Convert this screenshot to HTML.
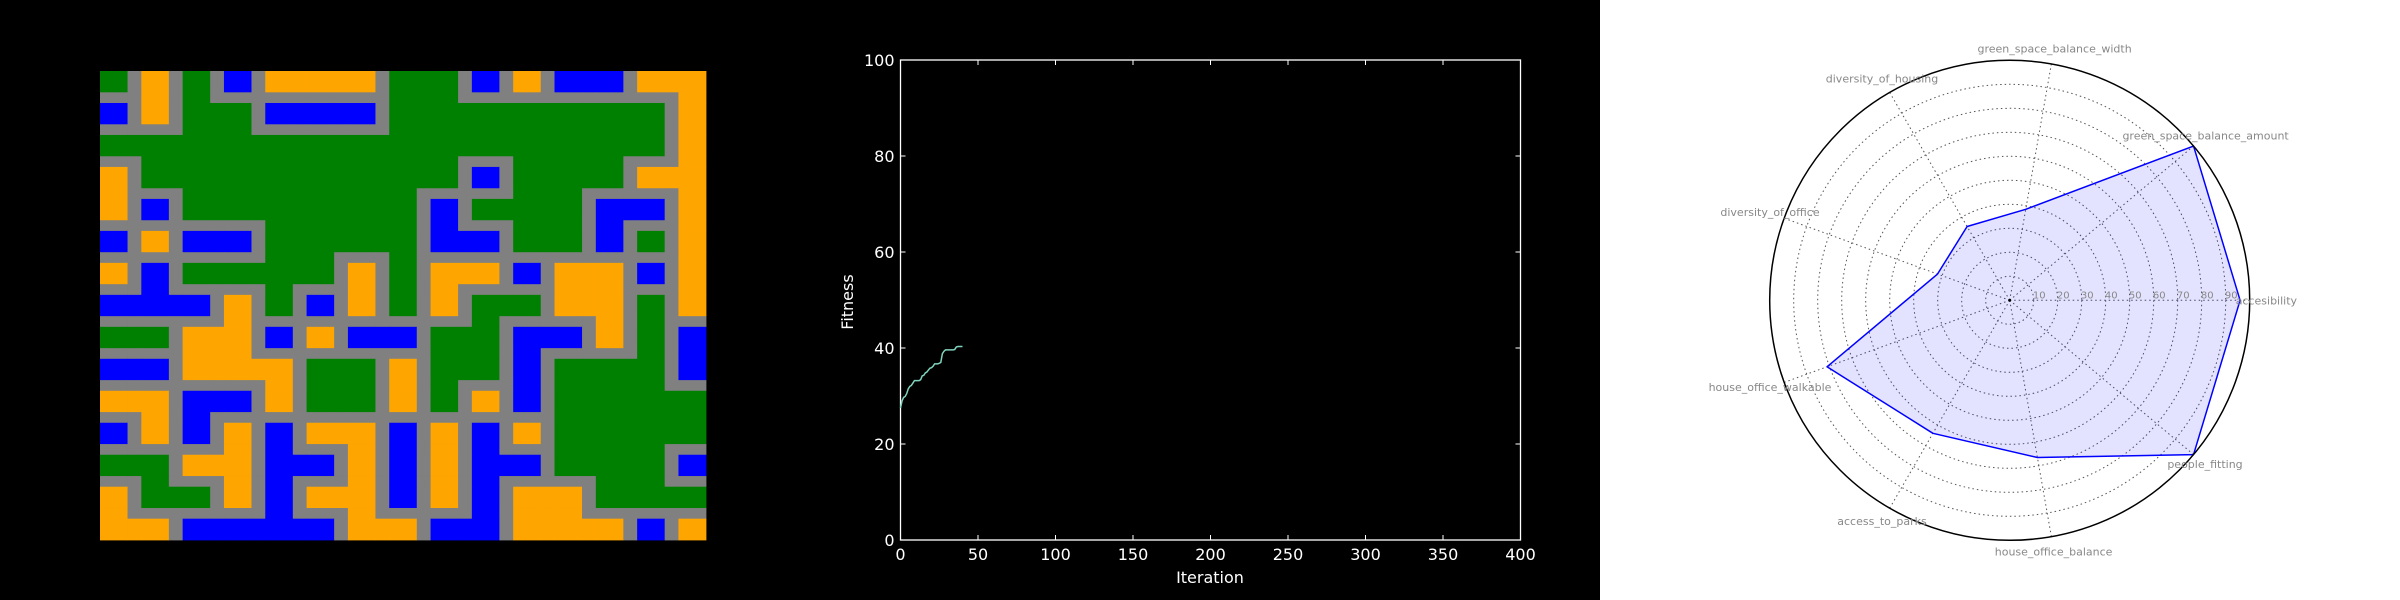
<!DOCTYPE html>
<html><head><meta charset="utf-8">
<style>
html,body{margin:0;padding:0;background:#000;}
body{width:2400px;height:600px;overflow:hidden;position:relative;font-family:"DejaVu Sans","Liberation Sans",sans-serif;}
svg{position:absolute;left:0;top:0;}
</style></head>
<body>
<svg id="root" width="2400" height="600" viewBox="0 0 2400 600" xmlns="http://www.w3.org/2000/svg">
  <rect x="0" y="0" width="1600" height="600" fill="#000"/>
  <rect x="1600" y="0" width="800" height="600" fill="#fff"/>
  <g id="mapG"></g>
  <g id="lineG"></g>
  <g id="radarG"></g>
</svg>
<script>
// ---------- Panel 1: city map (blocks even index, roads odd index) ----------
const mapRows = [
"G.O.G.B.OOOOO.GGG.B.O.BBB.OOO",
"..O.G.........GGG...........O",
"B.O.GGG.BBBBB.GGGGGGGGGGGGG.O",
"....GGG.......GGGGGGGGGGGGG.O",
"GGGGGGGGGGGGGGGGGGGGGGGGGGG.O",
"..GGGGGGGGGGGGGGG...GGGGG...O",
"O.GGGGGGGGGGGGGGG.B.GGGGG.OOO",
"O...GGGGGGGGGGG.....GGG.....O",
"O.B.GGGGGGGGGGG.B.GGGGG.BBB.O",
"........GGGGGGG.B...GGG.B...O",
"B.O.BBB.GGGGGGG.BBB.GGG.B.G.O",
"........GGG...G.............O",
"O.B.GGGGGGG.O.G.OOO.B.OOO.B.O",
"..B.....G...O.G.O.....OOO...O",
"BBBBB.O.G.B.O.G.O.GGG.OOO.G.O",
"......O...........G.....O.G..",
"GGG.OOO.B.O.BBB.GGG.BBB.O.G.B",
"....OOO.........GGG.B.....G.B",
"BBB.OOOOO.GGG.O.GGG.B.GGGGG.B",
"........O.GGG.O.G...B.GGGGG..",
"OOO.BBB.O.GGG.O.G.O.B.GGGGGGG",
"..O.B.................GGGGGGG",
"B.O.B.O.B.OOO.B.O.B.O.GGGGGGG",
"......O.B...O.B.O.B...GGGGG..",
"GGG.OOO.BBB.O.B.O.BBB.GGGGG.B",
"..G...O.B...O.B.O.B.....GGG..",
"O.GGG.O.B.OOO.B.O.B.OOO.GGGGG",
"O.......B...O.....B.OOO......",
"OOO.BBBBBBB.OOO.BBB.OOOOO.B.O"
];
const mapColors = {"G":"#008000","O":"#FFA500","B":"#0000FF",".":"#808080"};
const mapNames = {"G":"green-space","O":"housing","B":"office",".":"road"};
(function(){
  const g = document.getElementById('mapG');
  const x0=100, y0=71, ux=606/44, uy=469/44;
  const ns="http://www.w3.org/2000/svg";
  function pos(i){ return Math.floor(i/2)*3 + (i%2?2:0); }
  function size(i){ return i%2?1:2; }
  mapRows.forEach((row,r)=>{
    for(let c=0;c<row.length;c++){
      const ch=row[c];
      const rect=document.createElementNS(ns,'rect');
      rect.setAttribute('x',(x0+pos(c)*ux).toFixed(2));
      rect.setAttribute('y',(y0+pos(r)*uy).toFixed(2));
      rect.setAttribute('width',(size(c)*ux+0.4).toFixed(2));
      rect.setAttribute('height',(size(r)*uy+0.4).toFixed(2));
      rect.setAttribute('fill',mapColors[ch]);
      
      
      g.appendChild(rect);
    }
  });
})();

// ---------- Panel 2: fitness line chart ----------
const iterations = [0,1,2,3,4,5,6,7,8,9,10,11,12,13,14,15,16,17,18,19,20,21,22,23,24,25,26,27,28,29,30,31,32,33,34,35,36,37,38,39,40];
const fitness = [27.5,29.0,29.7,29.9,30.5,31.5,32.0,32.2,32.7,33.2,33.2,33.2,33.2,33.4,34.2,34.3,34.8,35.0,35.4,35.8,35.9,36.2,36.7,36.7,36.7,36.8,37.0,38.8,39.3,39.6,39.6,39.6,39.6,39.6,39.6,39.7,40.2,40.3,40.3,40.3,40.3];
const xTicks = [0,50,100,150,200,250,300,350,400];
const yTicks = [0,20,40,60,80,100];
(function(){
  const ns="http://www.w3.org/2000/svg";
  const g=document.getElementById('lineG');
  const L=900.5,R=1520.5,T=60,B=540;
  const xs=v=>L+(v-0)/(400-0)*(R-L);
  const ys=v=>B-(v-0)/(100-0)*(B-T);
  function el(tag,attrs,name,text){
    const e=document.createElementNS(ns,tag);
    for(const k in attrs) e.setAttribute(k,attrs[k]);
    
    
    if(text!==undefined) e.textContent=text;
    g.appendChild(e); return e;
  }
  el('rect',{x:L,y:T,width:R-L,height:B-T,fill:'none',stroke:'#fff','stroke-width':1.3},'plot-frame');
  xTicks.forEach(t=>{
    const x=xs(t);
    el('line',{x1:x,y1:B,x2:x,y2:B-5,stroke:'#fff','stroke-width':1},'x-tick');
    el('line',{x1:x,y1:T,x2:x,y2:T+5,stroke:'#fff','stroke-width':1},'x-tick-top');
    el('text',{x:x,y:B+20,fill:'#fff','font-size':16,'text-anchor':'middle'},'x-tick-label',String(t));
  });
  yTicks.forEach(t=>{
    const y=ys(t);
    el('line',{x1:L,y1:y,x2:L+5,y2:y,stroke:'#fff','stroke-width':1},'y-tick');
    el('line',{x1:R,y1:y,x2:R-5,y2:y,stroke:'#fff','stroke-width':1},'y-tick-right');
    el('text',{x:L-6,y:y+6,fill:'#fff','font-size':16,'text-anchor':'end'},'y-tick-label',String(t));
  });
  el('text',{x:1210,y:583,fill:'#fff','font-size':16,'text-anchor':'middle'},'x-axis-title','Iteration');
  el('text',{x:853,y:302,fill:'#fff','font-size':16,'text-anchor':'middle',transform:'rotate(-90 853 302)'},'y-axis-title','Fitness');
  const d=iterations.map((it,i)=>(i?'L':'M')+xs(it).toFixed(2)+' '+ys(fitness[i]).toFixed(2)).join(' ');
  el('path',{d:d,fill:'none',stroke:'#7fd4bd','stroke-width':1.5},'fitness-line');
})();

// ---------- Panel 3: radar chart ----------
const radarLabels = ["accesibility","green_space_balance_amount","green_space_balance_width","diversity_of_housing","diversity_of_office","house_office_walkable","access_to_parks","house_office_balance","people_fitting"];
const radarValues = [96,100,38.5,35.5,32,81,64,66.5,100];
const ringTicks = [10,20,30,40,50,60,70,80,90];
(function(){
  const ns="http://www.w3.org/2000/svg";
  const g=document.getElementById('radarG');
  const cx=2009.7, cy=300.3, Rpx=240, rmax=100;
  const rs=v=>v/rmax*Rpx;
  const n=radarLabels.length;
  const ang=i=>i*2*Math.PI/n;
  function el(tag,attrs,name,text){
    const e=document.createElementNS(ns,tag);
    for(const k in attrs) e.setAttribute(k,attrs[k]);
    
    
    if(text!==undefined) e.textContent=text;
    g.appendChild(e); return e;
  }
  ringTicks.forEach(t=>{
    el('circle',{cx:cx,cy:cy,r:rs(t),fill:'none',stroke:'#555','stroke-width':1,'stroke-dasharray':'1.5 3'},'grid-ring');
  });
  radarLabels.forEach((lab,i)=>{
    const a=ang(i);
    el('line',{x1:cx,y1:cy,x2:cx+Rpx*Math.cos(a),y2:cy-Rpx*Math.sin(a),stroke:'#555','stroke-width':1,'stroke-dasharray':'1.5 3'},'spoke');
  });
  const pts=radarValues.map((v,i)=>(cx+rs(v)*Math.cos(ang(i))).toFixed(2)+','+(cy-rs(v)*Math.sin(ang(i))).toFixed(2)).join(' ');
  el('polygon',{points:pts,fill:'#0000ff','fill-opacity':0.11,stroke:'#0000ff','stroke-width':1.5,'stroke-linejoin':'round'},'score-polygon');
  el('circle',{cx:cx,cy:cy,r:Rpx,fill:'none',stroke:'#000','stroke-width':1.5},'outer-circle');
  el('circle',{cx:cx,cy:cy,r:1.5,fill:'#000'},'center-dot');
  ringTicks.forEach(t=>{
    el('text',{x:cx+rs(t)+5.5,y:cy-2,fill:'#888','font-size':10,'text-anchor':'middle'},'ring-tick-label',String(t));
  });
  radarLabels.forEach((lab,i)=>{
    const a=ang(i);
    const lr=Rpx+ (i===0?12:i===1?17:i===8?12:13);
    let x=cx+lr*Math.cos(a), y=cy-lr*Math.sin(a);
    let anchor='middle';
    if(i===0){anchor='start'; x=cx+226;}
    if(i===1){x=2205.6; y=135.5;}
    if(i===2){x=2054.6; y=48.6;}
    if(i===3){x=1882; y=78.5;}
    if(i===4){x=1770; y=212;}
    if(i===5){x=1770; y=387;}
    if(i===6){x=1882; y=521;}
    if(i===7){x=2053.6; y=551.5;}
    if(i===8){x=2205; y=464;}
    el('text',{x:x,y:(i===0?cy+4:y+4),fill:'#888','font-size':11,'text-anchor':anchor},'axis-label-'+lab.replace(/_/g,'-'),lab);
  });
})();
</script>
</body></html>
